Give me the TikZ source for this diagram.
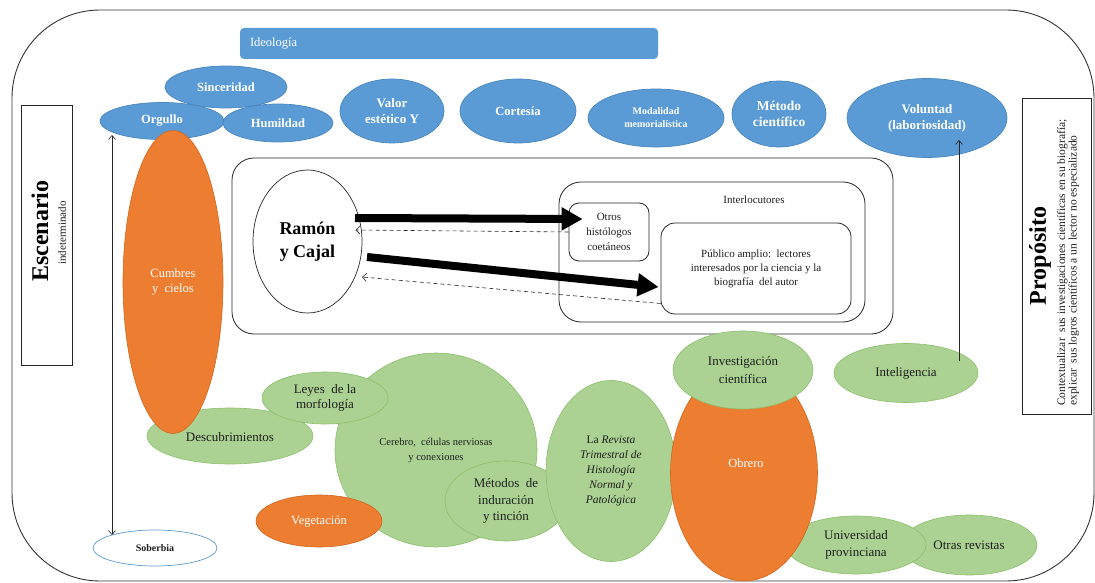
\documentclass[tikz,border=0pt]{standalone}
\usepackage{fontspec}
\setmainfont{Liberation Serif}
\usetikzlibrary{shapes.geometric,arrows.meta,calc}
\definecolor{blu}{HTML}{5B9BD5}
\definecolor{bluline}{HTML}{4A86BE}
\definecolor{grn}{HTML}{ABD292}
\definecolor{grnline}{HTML}{8CBF6C}
\definecolor{org}{HTML}{ED7D31}
\definecolor{orgline}{HTML}{D0671F}
\definecolor{txt}{HTML}{1E1E1E}
\newcommand\fsz[2]{\fontsize{#1}{#2}\selectfont}
\begin{document}
\begin{tikzpicture}[x=1pt,y=-1pt,
  ell/.style={ellipse, inner sep=0pt, align=center},
  blueell/.style={ell, fill=blu, draw=bluline, line width=0.7pt, text=white, font=\bfseries\fsz{12.5}{14.5}},
  greenell/.style={ell, fill=grn, draw=grnline, line width=0.6pt, text=txt, font=\fsz{13}{15.5}},
  orangeell/.style={ell, fill=org, draw=orgline, line width=0.6pt, text=white, font=\fsz{12.5}{15}},
  framebox/.style={draw=black!85, line width=0.8pt, inner sep=0pt},
  roundbox/.style={draw=black!85, line width=0.8pt, inner sep=0pt, align=center, text=txt},
  bigarrow/.style={line width=8pt, -{Triangle[length=21pt,width=22pt]}, black},
  thinarrow/.style={line width=0.6pt, black!85, -{Straight Barb[length=4pt,width=7pt]}},
  dasharrow/.style={line width=0.6pt, black!85, dash pattern=on 4pt off 3pt, -{Straight Barb[length=4pt,width=8pt]}}
]
\useasboundingbox (0,0) rectangle (1095,583);
\draw[line width=0.9pt, draw=black!80, rounded corners=88pt] (12,10) rectangle (1094,581);

% Ideologia bar
\node[fill=blu, rounded corners=4pt, minimum width=418pt, minimum height=31pt, text width=398pt, align=left, inner xsep=10pt, inner ysep=0pt, text=white, font=\fsz{12.5}{14}] (ideologia) at (449,43.5) {Ideología};

% blue ellipses
\node[blueell, minimum width=122pt, minimum height=42pt] (sinceridad) at (226,87) {Sinceridad};
\node[blueell, minimum width=124pt, minimum height=37pt] (orgullo) at (162,121) {Orgullo};
\node[blueell, minimum width=110pt, minimum height=38pt] (humildad) at (278,123) {Humildad};
\node[blueell, minimum width=104pt, minimum height=64pt, font=\bfseries\fsz{13}{15.5}] (valor) at (392,111) {Valor\\estético Y};
\node[blueell, minimum width=116pt, minimum height=64pt] (cortesia) at (518,111) {Cortesía};
\node[blueell, minimum width=136pt, minimum height=58pt, font=\bfseries\fsz{10}{13}] (modalidad) at (656,118) {Modalidad\\memorialística};
\node[blueell, minimum width=94pt, minimum height=66pt, font=\bfseries\fsz{13.5}{16}] (metodo) at (779,114) {Método\\científico};
\node[blueell, minimum width=160pt, minimum height=79pt, font=\bfseries\fsz{13}{16}] (voluntad) at (927,118) {Voluntad\\(laboriosidad)};

% Escenario
\node[framebox, minimum width=51pt, minimum height=260pt] (escbox) at (46.5,235) {};
\node[rotate=90, font=\bfseries\fsz{24}{26}, text=black, inner sep=0pt] (escenario) at (40,231) {Escenario};
\node[rotate=90, font=\fsz{11}{12}, text=txt, inner sep=0pt] (indet) at (62,233) {indeterminado};

% Proposito
\node[framebox, minimum width=69pt, minimum height=316pt] (propbox) at (1056.5,256) {};
\node[rotate=90, font=\bfseries\fsz{24}{26}, text=black, inner sep=0pt] (proposito) at (1040,256) {Propósito};
\node[rotate=90, anchor=west, align=left, font=\fsz{11.5}{11.5}, text=txt, inner sep=0pt] (proptxt) at (1068,406) {Contextualizar\ \ sus investigaciones científicas en su biografía;\\explicar\ \ sus logros científicos a un lector no especializado};

% central frame
\node[roundbox, rounded corners=22pt, minimum width=661pt, minimum height=176pt] (centro) at (562.5,246) {};
\node[ell, draw=black!85, line width=0.7pt, fill=white, minimum width=109pt, minimum height=143pt, font=\bfseries\fsz{18}{23}, text=black] (ramon) at (307.5,241.5) {Ramón\\y Cajal};
\node[roundbox, rounded corners=22pt, minimum width=306pt, minimum height=140pt] (interbox) at (712,252) {};
\node[font=\fsz{11}{12}, text=txt, inner sep=0pt] (interloc) at (754,200) {Interlocutores};
\node[roundbox, rounded corners=10pt, minimum width=80pt, minimum height=58pt, font=\fsz{11}{14.8}] (otros) at (609,232) {Otros\\histólogos\\coetáneos};
\node[roundbox, rounded corners=14pt, minimum width=190pt, minimum height=91pt, font=\fsz{11}{14}] (publico) at (756,268.5) {Público amplio:\ \ lectores\\interesados por la ciencia y la\\biografía\ \ del autor};

% arrows between Ramon and interlocutors
\draw[bigarrow] ($(ramon.center)+(47.5,-23.5)$) -- ($(otros.west)+(14,-13)$);
\draw[bigarrow] ($(ramon.center)+(59.5,15.5)$) -- ($(publico.west)+(-2,18.5)$);
\draw[dasharrow] (otros.west) -- ($(ramon.center)+(48,-11.5)$);
\draw[dasharrow] ($(publico.west)+(0,35)$) -- ($(ramon.center)+(54.5,35.5)$);

% lower cluster
\node[greenell, minimum width=202pt, minimum height=194pt, font=\fsz{10.5}{15}] (cerebro) at (436,450) {Cerebro,\ \ células nerviosas\\y conexiones};
\node[greenell, minimum width=166pt, minimum height=56pt] (descub) at (230,436) {};
\node[greenell, minimum width=126pt, minimum height=52pt] (leyes) at (325,398) {Leyes\ \ de la\\morfología};
\node[orangeell, minimum width=100pt, minimum height=303pt] (cumbres) at (173,282) {Cumbres\\y\ \ cielos};
\node[font=\fsz{13}{15}, text=txt, inner sep=0pt] (descubtxt) at (230,437) {Descubrimientos};
\node[orangeell, minimum width=126pt, minimum height=52pt] (vegetacion) at (319,521) {Vegetación};
\node[greenell, minimum width=122pt, minimum height=80pt, font=\fsz{13}{16.5}] (metodos) at (506,501) {Métodos\ \ de\\induración\\y tinción};
\node[greenell, minimum width=130pt, minimum height=181pt, font=\fsz{11.5}{15}] (revista) at (611,471) {La \textit{Revista}\\\textit{Trimestral de}\\\textit{Histología}\\\textit{Normal y}\\\textit{Patológica}};
\node[greenell, minimum width=136pt, minimum height=60pt] (otrasrev) at (969,545) {Otras revistas};
\node[greenell, minimum width=140pt, minimum height=58pt, font=\fsz{13}{17}] (universidad) at (856,545) {Universidad\\provinciana};
\node[orangeell, minimum width=147pt, minimum height=216pt] (obrero) at (744,473) {};
\node[font=\fsz{12.5}{15}, text=white, inner sep=0pt] (obrerotxt) at (746,463) {Obrero};
\node[greenell, minimum width=140pt, minimum height=78pt, font=\fsz{13}{18}] (investig) at (743,370) {Investigación\\científica};
\node[greenell, minimum width=144pt, minimum height=59pt] (inteligencia) at (906,373) {Inteligencia};
\node[ell, fill=white, draw=blu, line width=0.7pt, minimum width=124pt, minimum height=36pt, font=\bfseries\fsz{10}{12}, text=txt] (soberbia) at (155,548) {Soberbia};

% thin connectors
\draw[thinarrow, {Straight Barb[length=4pt,width=7pt]}-{Straight Barb[length=4pt,width=7pt]}] ($(orgullo.center)+(-50,14)$) -- ($(soberbia.center)+(-43,-13)$);
\draw[thinarrow] ($(inteligencia.center)+(53,-12)$) -- ($(voluntad.center)+(32,22)$);
\end{tikzpicture}
\end{document}
